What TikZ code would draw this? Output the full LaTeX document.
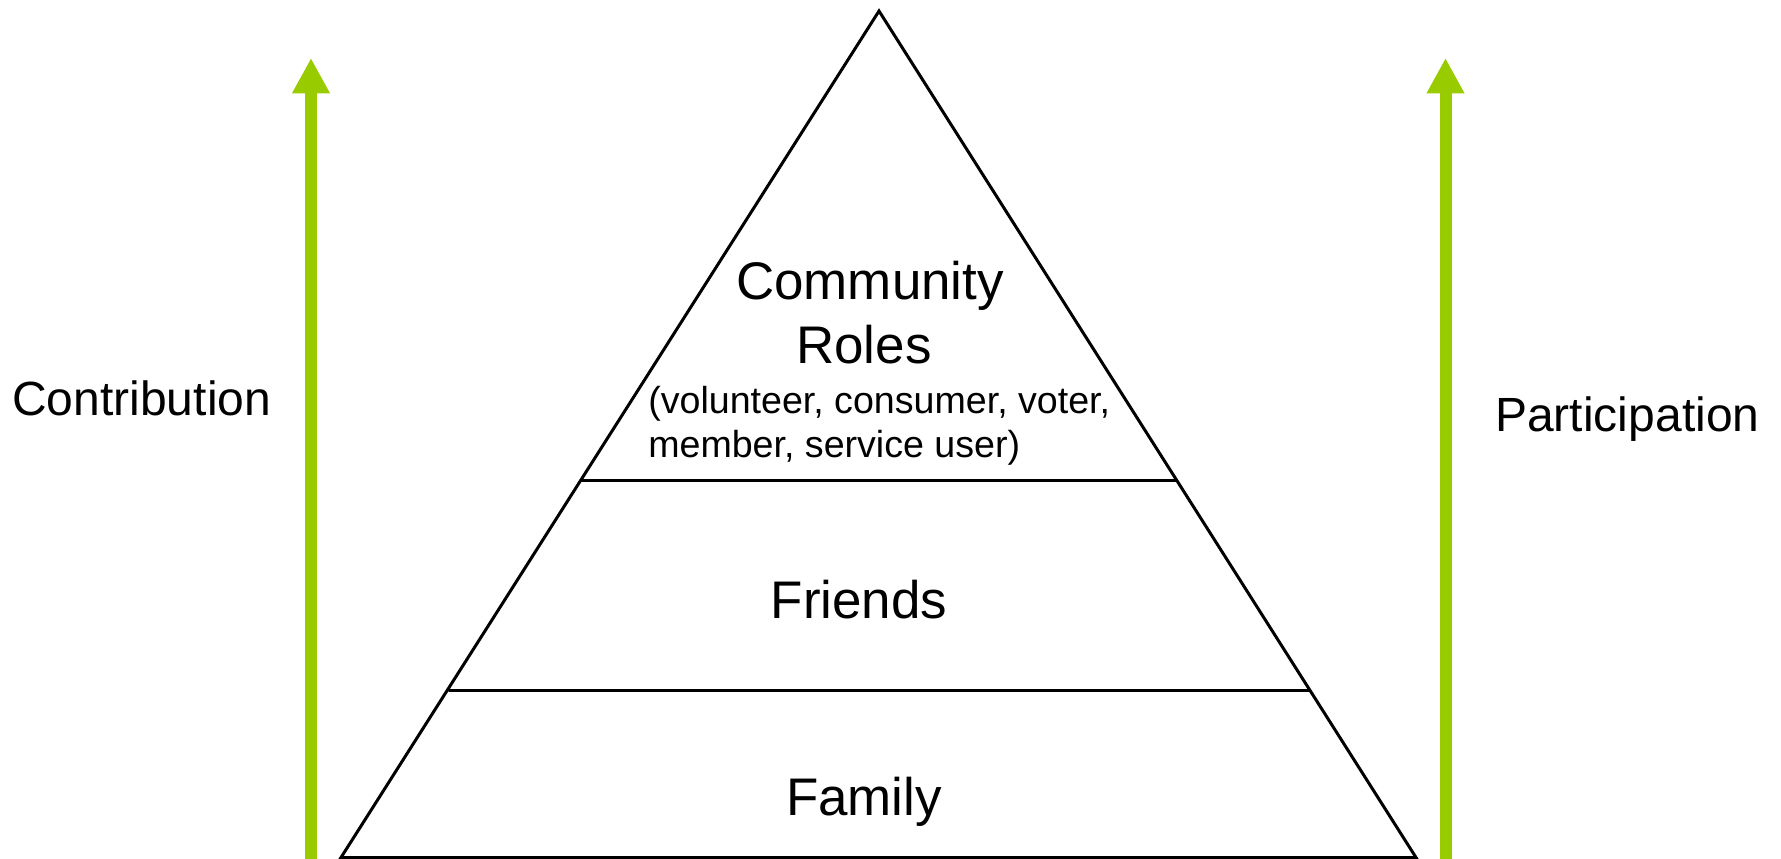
\documentclass[tikz,border=0pt]{standalone}
\usepackage{fontspec}
\setmainfont{Liberation Sans}
\usetikzlibrary{arrows.meta}
\definecolor{arrowgreen}{HTML}{99CC00}
\tikzset{
  edgeline/.style={line width=2.25pt, line cap=round, line join=miter},
  greenarrow/.style={draw=arrowgreen, line width=9pt, -{Triangle[width=26.5pt,length=26.5pt]}},
  bigtext/.style={inner sep=0pt, anchor=base, font=\fontsize{39.7pt}{46pt}\selectfont},
  sidetext/.style={inner sep=0pt, anchor=base west, font=\fontsize{36pt}{42pt}\selectfont},
  subtext/.style={inner sep=0pt, anchor=base west, font=\fontsize{28.2pt}{33pt}\selectfont}
}
\begin{document}
\begin{tikzpicture}[x=0.75pt, y=-0.75pt]
\useasboundingbox (0,0) rectangle (1781,859);
% triangle corners
\coordinate (apex) at (879,11);
\coordinate (bl) at (341,857.5);
\coordinate (br) at (1416,857.5);
\coordinate (l1) at (581,480.5);
\coordinate (r1) at (1176,480.5);
\coordinate (l2) at (449,690.5);
\coordinate (r2) at (1309,690.5);
\draw[edgeline] (bl) -- (apex) -- (br) -- cycle;
\draw[edgeline] (l1) -- (r1);
\draw[edgeline] (l2) -- (r2);
% green arrows
\coordinate (la0) at (311,859);
\coordinate (la1) at (311,58);
\coordinate (ra0) at (1445.5,859);
\coordinate (ra1) at (1445.5,58);
\draw[greenarrow] (la0) -- (la1);
\draw[greenarrow] (ra0) -- (ra1);
% texts
\node[bigtext] (community) at (870,300) {Community};
\node[bigtext] (roles) at (864,363) {Roles};
\node[subtext] (sub1) at (648,413) {(volunteer, consumer, voter,};
\node[subtext] (sub2) at (648,457) {member, service user)};
\node[bigtext] (friends) at (859,618) {Friends};
\node[bigtext] (family) at (864,815) {Family};
\node[sidetext] (contrib) at (12,415) {Contribution};
\node[sidetext] (partic) at (1495,431) {Participation};
\end{tikzpicture}
\end{document}
